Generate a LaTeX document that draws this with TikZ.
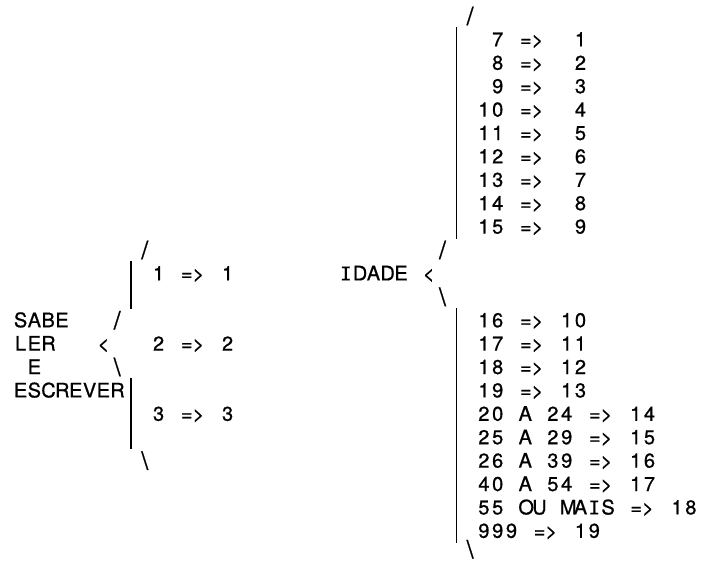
\documentclass[tikz,border=0pt]{standalone}
\usepackage{fontspec}
\setmainfont[FakeBold=0.8]{TeX Gyre Heros}
\newfontfamily\ifont[FakeBold=0.5]{DejaVu Sans Mono}
\newlength\pitch
\setlength\pitch{13.8pt}
\ExplSyntaxOn
\str_new:N \l_mono_str
\NewDocumentCommand\mono{m}{
  \str_set:Nx \l_mono_str {#1}
  \str_map_inline:Nn \l_mono_str
    { \str_case:nnF {##1}
        {
          {_} { \hbox_to_wd:nn {\pitch} {} }
          {I} { \hbox_to_wd:nn {\pitch} { \hfil {\ifont\fontsize{19pt}{24pt}\selectfont I} \hfil } }
          {=} { \hbox_to_wd:nn {\pitch} { \hfil = \kern0.5pt } }
          {>} { \hbox_to_wd:nn {\pitch} { \kern-0.5pt > \hfil } }
        }
        { \hbox_to_wd:nn {\pitch} { \hfil ##1 \hfil } } }
}
\ExplSyntaxOff
\newcommand\cell[1]{\hbox to\pitch{\hfil#1\hfil}}
\def\LX#1{(13.7+(#1)*13.8)}
\def\RX#1{(339+(#1)*13.8)}
\def\YC#1{(16+(#1)*23.4)}
\def\YB#1{(16+(#1)*23.4+7)}
\begin{document}
\begin{tikzpicture}[x=1pt,y=-1pt,
  every node/.style={inner sep=0pt,outer sep=0pt,font=\fontsize{20pt}{24pt}\selectfont},
  txt/.style={anchor=base west},
  slash/.style={anchor=center,font=\fontsize{25pt}{28pt}\selectfont},
  bar/.style={line width=1.2pt}]
\useasboundingbox (0,0) rectangle (706,563);
% ---------- left block: SABE LER E ESCREVER ----------
\node[txt] (sabe) at ({\LX{0}},{\YB{13}}) {\mono{SABE}};
\node[txt] (ler) at ({\LX{0}},{\YB{14}}) {\mono{LER}};
\node[txt] (e) at ({\LX{0}},{\YB{15}}) {\mono{_E}};
\node[txt] (escrever) at ({\LX{0}},{\YB{16}}) {\mono{ESCREVER}};
\node[txt] (llt) at ({\LX{6}},{\YB{14}}) {\cell{<}};
\node[slash] (lsl1) at ({\LX{7.5}},{\YC{13}}) {/};
\node[slash] (lbs1) at ({\LX{7.5}},{\YC{15}}) {\textbackslash};
\node[slash] (lsl0) at ({\LX{9.5}},{\YC{10}}) {/};
\node[slash] (lbs0) at ({\LX{9.5}},{\YC{19}}) {\textbackslash};
\node[txt] (o1) at ({\LX{10}},{\YB{11}}) {\mono{1_=>_1}};
\node[txt] (o2) at ({\LX{10}},{\YB{14}}) {\mono{2_=>_2}};
\node[txt] (o3) at ({\LX{10}},{\YB{17}}) {\mono{3_=>_3}};
\coordinate (la1) at ({\LX{8.5}},{\YC{11}-12});
\coordinate (la2) at ({\LX{8.5}},{\YC{12}+12});
\coordinate (lb1) at ({\LX{8.5}},{\YC{16}-12});
\coordinate (lb2) at ({\LX{8.5}},{\YC{18}+12});
\draw[bar] (la1) -- (la2);
\draw[bar] (lb1) -- (lb2);
% ---------- right block: IDADE ----------
\node[txt] (idade) at ({\RX{0}},{\YB{11}}) {\mono{IDADE}};
\node[txt] (rlt) at ({\RX{6}},{\YB{11}}) {\cell{<}};
\node[slash] (rsl1) at ({\RX{7.5}},{\YC{10}}) {/};
\node[slash] (rbs1) at ({\RX{7.5}},{\YC{12}}) {\textbackslash};
\node[slash] (rsl0) at ({\RX{9.5}},{\YC{0}}) {/};
\node[slash] (rbs0) at ({\RX{9.5}},{\YC{23}-5}) {\textbackslash};
\foreach \t [count=\i] in {_7_=>__1,_8_=>__2,_9_=>__3,10_=>__4,11_=>__5,12_=>__6,13_=>__7,14_=>__8,15_=>__9}
  \node[txt] (t\i) at ({\RX{10}},{\YB{\i}}) {\mono{\t}};
\foreach \t [count=\i] in {16_=>_10,17_=>_11,18_=>_12,19_=>_13,20_A_24_=>_14,25_A_29_=>_15,26_A_39_=>_16,40_A_54_=>_17,55_OU_MAIS_=>_18,999_=>_19}
  \node[txt] (b\i) at ({\RX{10}},{\YB{12+\i}}) {\mono{\t}};
\coordinate (ra1) at ({\RX{8.5}},{\YC{1}-12});
\coordinate (ra2) at ({\RX{8.5}},{\YC{9}+12});
\coordinate (rb1) at ({\RX{8.5}},{\YC{13}-12});
\coordinate (rb2) at ({\RX{8.5}},{\YC{22}+12});
\draw[bar] (ra1) -- (ra2);
\draw[bar] (rb1) -- (rb2);
\end{tikzpicture}
\end{document}
